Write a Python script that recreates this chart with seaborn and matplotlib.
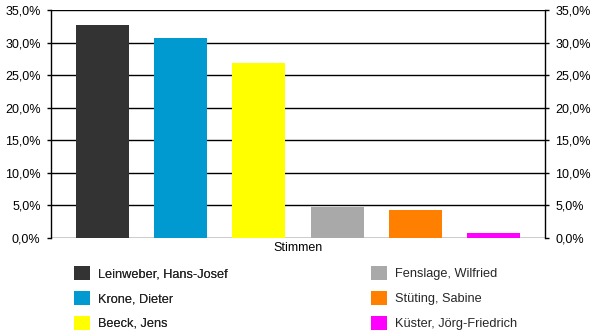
import matplotlib
matplotlib.use("Agg")
import matplotlib.pyplot as plt
import matplotlib.patches as mpatches
from matplotlib.ticker import FuncFormatter, MultipleLocator
import seaborn as sns
import pandas as pd

candidates = ["Leinweber, Hans-Josef", "Krone, Dieter", "Beeck, Jens",
              "Fenslage, Wilfried", "Stüting, Sabine", "Küster, Jörg-Friedrich"]
values = [32.7, 30.7, 26.8, 4.8, 4.3, 0.8]
colors = ["#333333", "#0099d0", "#ffff00", "#a9a9a9", "#ff8000", "#ff00ff"]
category = "Stimmen"

sns.set_style("white")
plt.rcParams["font.family"] = ["Liberation Sans", "DejaVu Sans"]
plt.rcParams["font.size"] = 9

df = pd.DataFrame({"Kategorie": [category] * len(candidates),
                   "Kandidat": candidates,
                   "Anteil": [v / 100 for v in values]})

fig = plt.figure(figsize=(6, 3.33), dpi=100)
W, H = 600, 333
ax = fig.add_axes([51 / W, 1 - 238 / H, (545 - 51) / W, (238 - 10) / H])

sns.barplot(data=df, x="Kategorie", y="Anteil", hue="Kandidat",
            hue_order=candidates, palette=colors, width=0.95, gap=0.32,
            saturation=1, legend=False, ax=ax, zorder=3, errorbar=None)
for p in ax.patches:
    p.set_edgecolor("none")
    p.set_zorder(3)

ax.set_xlim(-0.5, 0.5)
ax.set_ylim(0, 0.35)
ax.yaxis.set_major_locator(MultipleLocator(0.05))
ax.yaxis.set_major_formatter(FuncFormatter(lambda v, p: f"{v*100:.1f}".replace(".", ",") + "%"))
ax.grid(axis="y", color="black", linewidth=1, zorder=1)
ax.set_axisbelow(True)
ax.set_xlabel("")
ax.set_ylabel("")

ax.set_xticks([-0.5, 0.5])
ax.set_xticklabels(["", ""])
ax.set_xticks([0], minor=True)
ax.set_xticklabels([category], minor=True)
ax.tick_params(axis="x", which="major", length=9.4, width=1, color="black", direction="out")
ax.tick_params(axis="x", which="minor", length=0, pad=3, labelsize=9, colors="black")
ax.tick_params(axis="y", which="major", left=True, right=True, labelleft=True, labelright=True,
               length=3, width=1, color="black", direction="out", pad=4.5, labelsize=9,
               labelcolor="black")

for side in ["top", "bottom"]:
    ax.spines[side].set_visible(False)
for side in ["left", "right"]:
    ax.spines[side].set_visible(True)
    ax.spines[side].set_color("black")
    ax.spines[side].set_linewidth(1)

def make_legend(names, cols, x_px):
    handles = [mpatches.Patch(facecolor=c, edgecolor="none") for c in cols]
    leg = fig.legend(handles, names, loc="upper left",
                     bbox_to_anchor=(x_px / W, 1 - 266 / H),
                     frameon=False, fontsize=9.2, ncol=1,
                     handlelength=1.28, handleheight=1.28, handletextpad=0.6,
                     labelspacing=0.84, borderaxespad=0, borderpad=0)
    return leg

leg1 = make_legend(candidates[:3], colors[:3], 74)
fig.add_artist(leg1)
make_legend(candidates[3:], colors[3:], 371)

fig.savefig("out.png", dpi=100)
